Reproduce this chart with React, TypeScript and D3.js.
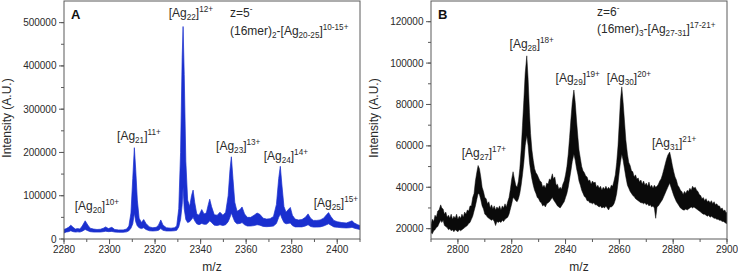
import React from 'react';
import * as d3 from 'd3';

const W = 738;
const H = 275;

// Panel A: (16mer)2-[Ag20-25], z = 5-
const mzA = [2280, 2281, 2282, 2283, 2284, 2285, 2286, 2287, 2288, 2289.3, 2290.5, 2291.5, 2293, 2294.5, 2296, 2297.3, 2298.3, 2299.5, 2301, 2302.3, 2304, 2306, 2307.5, 2308.5, 2309.4, 2310.2, 2310.9, 2311.5, 2312.2, 2313, 2314, 2315, 2316, 2317.5, 2319, 2320.5, 2321.5, 2322.5, 2323.5, 2325, 2327, 2328.5, 2329.5, 2330.4, 2331.2, 2331.9, 2332.3, 2332.8, 2333.5, 2334.3, 2335.2, 2336, 2336.7, 2337.4, 2338.3, 2339.3, 2340.5, 2341.5, 2342.5, 2343.4, 2344, 2344.8, 2346, 2347.3, 2348.5, 2349.8, 2351, 2352.1, 2352.9, 2353.5, 2354.2, 2355, 2356, 2357.3, 2358.2, 2359.3, 2360.5, 2362, 2363.5, 2364.8, 2366, 2367.5, 2369, 2370.5, 2372, 2373.3, 2374.3, 2375, 2375.7, 2376.6, 2377.5, 2378.5, 2379.4, 2380.3, 2381.5, 2383, 2384.5, 2386, 2387.2, 2388.3, 2389.5, 2391, 2392.5, 2394, 2395.3, 2396.2, 2397.2, 2398.5, 2400, 2402, 2404, 2405.5, 2406.5, 2407.5, 2409, 2410];
const hiA = [22000, 24000, 27000, 32000, 27000, 23000, 24000, 23000, 30000, 42000, 32000, 25000, 23000, 22000, 22500, 25000, 28000, 24000, 27000, 22000, 21000, 21000, 23000, 30000, 60000, 140000, 211000, 160000, 90000, 48000, 38000, 45000, 36000, 28000, 26000, 27000, 32000, 44000, 32000, 26000, 25000, 26000, 30000, 70000, 200000, 420000, 491000, 380000, 180000, 90000, 75000, 100000, 113000, 85000, 58000, 55000, 68000, 58000, 60000, 80000, 92000, 75000, 56000, 55000, 62000, 55000, 62000, 100000, 160000, 190000, 140000, 85000, 64000, 68000, 74000, 58000, 50000, 50000, 55000, 60000, 57000, 48000, 46000, 47000, 52000, 80000, 140000, 168000, 125000, 75000, 62000, 68000, 73000, 55000, 46000, 44000, 45000, 50000, 58000, 48000, 43000, 43000, 44000, 48000, 56000, 61000, 52000, 43000, 40000, 38000, 37000, 40000, 42000, 37000, 33000, 31000];
const loA = [14000, 16000, 17000, 19000, 17000, 16000, 16500, 16000, 18000, 22000, 19000, 17000, 16000, 16000, 16000, 17000, 18000, 17000, 17500, 16000, 15500, 15500, 16500, 19000, 25000, 35000, 60000, 40000, 30000, 26000, 24000, 26000, 22000, 19000, 18500, 19000, 20000, 24000, 20000, 18500, 18500, 19000, 20000, 28000, 45000, 80000, 120000, 70000, 45000, 38000, 40000, 45000, 50000, 42000, 35000, 33000, 36000, 34000, 34000, 38000, 42000, 38000, 32000, 31000, 33000, 31000, 33000, 40000, 50000, 60000, 50000, 40000, 35000, 36000, 38000, 33000, 30000, 30000, 31000, 33000, 32000, 29000, 28500, 29000, 30000, 36000, 50000, 58000, 48000, 38000, 35000, 36000, 37000, 31000, 28000, 28000, 28000, 30000, 33000, 29000, 27500, 27500, 28000, 30000, 33000, 35000, 32000, 28000, 27000, 26000, 25500, 26000, 27000, 25000, 23000, 22000];

// Panel B: (16mer)3-[Ag27-31], z = 6-  (upper / lower edge of the noisy trace)
const mzB = [
  2790, 2790.5, 2791, 2791.5, 2792, 2792.5, 2793, 2793.6, 2794, 2794.5,
  2795, 2795.5, 2796, 2796.5, 2797, 2797.5, 2798, 2798.5, 2799, 2799.5,
  2800, 2800.5, 2801, 2801.5, 2802, 2802.5, 2803, 2803.5, 2804, 2804.5,
  2805, 2805.5, 2806, 2806.5, 2807, 2807.5, 2808, 2808.5, 2809, 2809.5,
  2810, 2810.5, 2811, 2811.5, 2812, 2812.5, 2813, 2813.5, 2814, 2814.5,
  2815, 2815.5, 2816, 2816.5, 2817, 2817.5, 2818, 2818.5, 2819, 2819.5,
  2820, 2820.5, 2821, 2821.5, 2822, 2822.5, 2823, 2823.5, 2824, 2824.5,
  2825, 2825.6, 2826.1, 2826.6, 2827, 2827.5, 2828, 2828.5, 2829, 2829.5,
  2830, 2830.5, 2831, 2831.5, 2832, 2832.5, 2833, 2833.5, 2834, 2834.5,
  2835.1, 2835.5, 2836, 2836.5, 2837, 2837.5, 2838, 2838.5, 2839, 2839.5,
  2840, 2840.5, 2841, 2841.5, 2842, 2842.5, 2843.1, 2843.6, 2844.1, 2844.6,
  2845, 2845.5, 2846, 2846.5, 2847, 2847.5, 2848, 2848.5, 2849, 2849.5,
  2850, 2850.5, 2851, 2851.5, 2852, 2852.5, 2853, 2853.5, 2854, 2854.5,
  2855, 2855.5, 2856, 2856.5, 2857, 2857.5, 2858, 2858.5, 2859, 2859.5,
  2860, 2860.4, 2860.9, 2861.4, 2861.9, 2862.4, 2863, 2863.5, 2864, 2864.5,
  2865, 2865.5, 2866, 2866.5, 2867, 2867.5, 2868, 2868.5, 2869, 2869.5,
  2870, 2870.5, 2871, 2871.5, 2872, 2872.5, 2873, 2873.5, 2874, 2874.5,
  2875, 2875.5, 2876, 2876.5, 2877, 2877.5, 2878, 2878.7, 2879.2, 2879.7,
  2880.2, 2880.7, 2881.2, 2881.7, 2882.2, 2882.7, 2883.2, 2883.7, 2884.2, 2884.7,
  2885.2, 2885.7, 2886.2, 2886.7, 2887.2, 2887.7, 2888.2, 2888.7, 2889.2, 2889.7,
  2890.2, 2890.7, 2891.2, 2891.7, 2892.2, 2892.7, 2893.2, 2893.7, 2894.2, 2894.7,
  2895.2, 2895.7, 2896.2, 2896.7, 2897.2, 2897.7, 2898.2, 2898.7, 2899.2, 2899.7,
  2900,
];
const hiB = [
  22000, 24500, 23500, 26500, 25500, 28500, 29000, 31500, 30000, 29500,
  27000, 28000, 25500, 26500, 25000, 27000, 24500, 26000, 25000, 27000,
  24500, 26000, 25000, 27000, 25500, 28000, 27000, 29000, 28500, 31000,
  31000, 35000, 37000, 43000, 47000, 50500, 49000, 45000, 40000, 38000,
  35000, 34500, 32000, 33000, 30000, 31500, 29500, 31000, 29000, 30500,
  29500, 31000, 29000, 31000, 30000, 32000, 30500, 33000, 35000, 39000,
  44000, 47500, 44000, 41000, 40000, 43000, 49000, 58000, 70000, 82000,
  95000, 103500, 92000, 76000, 66000, 58000, 53000, 49000, 47000, 46000,
  44500, 43000, 42500, 40000, 41000, 39500, 42000, 41500, 44000, 43500,
  46500, 44000, 45000, 41000, 41500, 39000, 40000, 39000, 41500, 43000,
  46000, 50000, 56000, 64000, 73000, 81000, 87000, 81000, 72000, 64000,
  58000, 54000, 50000, 48000, 47000, 45500, 45000, 43000, 43500, 41500,
  43000, 42000, 42500, 40000, 41000, 39500, 40500, 38500, 40000, 39000,
  40500, 39000, 40000, 39000, 41000, 40500, 43000, 46000, 52000, 60000,
  72000, 82000, 88500, 81000, 72000, 63000, 56000, 52000, 50500, 48000,
  47500, 45000, 46000, 44000, 44500, 42500, 43500, 41500, 43000, 41000,
  42000, 40500, 42500, 40000, 41000, 39500, 41000, 40000, 40500, 41500,
  43000, 44000, 46000, 48500, 51000, 53500, 55500, 57000, 54000, 50500,
  47500, 45000, 43500, 41000, 40000, 38500, 38000, 36500, 38000, 37000,
  38500, 38000, 39500, 38500, 40500, 39500, 40000, 38500, 38000, 36500,
  36000, 34500, 35000, 33500, 34500, 33000, 33500, 32500, 33500, 32000,
  33000, 31500, 32000, 31000, 31000, 29500, 30000, 28500, 29000, 27500,
  28000,
];
const loB = [
  18000, 17500, 19000, 19500, 20500, 21000, 22500, 24000, 23000, 24000,
  21500, 21000, 20500, 19500, 20000, 19000, 19500, 18500, 19500, 19000,
  18500, 19500, 19000, 19500, 20000, 20500, 21000, 21500, 22500, 23000,
  24500, 26000, 28500, 31000, 34000, 37000, 36500, 34000, 31000, 29500,
  27000, 26500, 25500, 25000, 24500, 24000, 24500, 23500, 21500, 23500,
  23000, 23500, 23000, 24000, 23500, 24500, 25000, 25500, 27000, 29500,
  32000, 35000, 34500, 33500, 33000, 34500, 37000, 41000, 46000, 52000,
  60000, 65000, 60000, 52000, 48000, 44000, 41000, 38500, 37000, 35000,
  34500, 33000, 32500, 31000, 31500, 30500, 32000, 32500, 33000, 34000,
  35000, 34000, 33000, 32000, 31000, 30500, 30000, 31000, 32000, 33000,
  35000, 37000, 40000, 44000, 48000, 52500, 56000, 53000, 49000, 46000,
  43000, 41000, 38500, 37000, 35500, 35000, 33500, 33500, 32500, 32500,
  32000, 32500, 31500, 31500, 31000, 30500, 31000, 30000, 30500, 30000,
  31000, 30000, 29000, 30500, 30500, 31000, 32000, 34000, 37000, 42000,
  48000, 52000, 56000, 53000, 49000, 45000, 41000, 39500, 38000, 37000,
  36000, 35500, 34500, 34000, 33500, 33000, 32500, 32500, 32000, 32500,
  31500, 32000, 31000, 31500, 30500, 31000, 30000, 25000, 30500, 31000,
  32000, 33000, 34000, 35500, 37000, 38500, 40000, 42000, 40000, 38000,
  36000, 34500, 33000, 32000, 31000, 30000, 29500, 29000, 29000, 29500,
  29000, 29500, 30000, 30500, 30000, 30500, 30000, 29500, 29000, 28500,
  28000, 27500, 27000, 27000, 26500, 26000, 26500, 25500, 26000, 25500,
  25000, 25000, 24500, 24500, 24000, 24000, 23500, 23500, 23000, 22500,
  22500,
];

const xTicksA = [2280, 2300, 2320, 2340, 2360, 2380, 2400];
const yTicksA = [0, 100000, 200000, 300000, 400000, 500000];
const xTicksB = [2800, 2820, 2840, 2860, 2880, 2900];
const yTicksB = [20000, 40000, 60000, 80000, 100000, 120000];

type Seg = { t: string; k?: 'sub' | 'sup' };
type Note = { mz: number; v: number; segs: Seg[] };

const ion = (n: string, z: string): Seg[] => [
  { t: '[Ag' }, { t: n, k: 'sub' }, { t: ']' }, { t: z, k: 'sup' },
];

// peak assignments, anchored in data coordinates (m/z, intensity)
const notesA: Note[] = [
  { mz: 2284.7, v: 67000, segs: ion('20', '10+') },
  { mz: 2303.3, v: 229000, segs: ion('21', '11+') },
  { mz: 2326.0, v: 512000, segs: ion('22', '12+') },
  { mz: 2346.8, v: 206000, segs: ion('23', '13+') },
  { mz: 2367.7, v: 183000, segs: ion('24', '14+') },
  { mz: 2389.7, v: 75000, segs: ion('25', '15+') },
  { mz: 2352.9, v: 513000, segs: [{ t: 'z=5' }, { t: '-', k: 'sup' }] },
  { mz: 2352.9, v: 472000, segs: [{ t: '(16mer)' }, { t: '2', k: 'sub' }, { t: '-[Ag' }, { t: '20-25', k: 'sub' }, { t: ']' }, { t: '10-15+', k: 'sup' }] },
];
const notesB: Note[] = [
  { mz: 2801.4, v: 54600, segs: ion('27', '17+') },
  { mz: 2819.2, v: 107300, segs: ion('28', '18+') },
  { mz: 2836.3, v: 90900, segs: ion('29', '19+') },
  { mz: 2855.3, v: 90900, segs: ion('30', '20+') },
  { mz: 2872.1, v: 59500, segs: ion('31', '21+') },
  { mz: 2851.7, v: 122700, segs: [{ t: 'z=6' }, { t: '-', k: 'sup' }] },
  { mz: 2851.7, v: 114500, segs: [{ t: '(16mer)' }, { t: '3', k: 'sub' }, { t: '-[Ag' }, { t: '27-31', k: 'sub' }, { t: ']' }, { t: '17-21+', k: 'sup' }] },
];

const FONT = 'Liberation Sans, Arial, sans-serif';
const AXIS = '#5a5a5a';
const INK = '#2a2a2a';

function RichText({ x, y, segs, size = 12 }: { x: number; y: number; segs: Seg[]; size?: number }) {
  let shift = 0;
  return (
    <text x={x} y={y} fontSize={size} fill={INK} fontFamily={FONT}>
      {segs.map((s, i) => {
        const target = s.k === 'sub' ? 3 : s.k === 'sup' ? -5 : 0;
        const dy = target - shift;
        shift = target;
        return (
          <tspan key={i} dy={dy} fontSize={s.k ? size * 0.68 : size}>
            {s.t}
          </tspan>
        );
      })}
    </text>
  );
}

type PanelProps = {
  id: string;
  letter: string;
  mz: number[];
  hi: number[];
  lo: number[];
  color: string;
  strokeW: number;
  xDomain: [number, number];
  yDomain: [number, number];
  xTicks: number[];
  yTicks: number[];
  xMinor: number;
  yMinor: number;
  box: { left: number; right: number; top: number; bottom: number };
  yLabelX: number;
  notes: Note[];
};

function Panel(p: PanelProps) {
  const { left, right, top, bottom } = p.box;
  const x = d3.scaleLinear().domain(p.xDomain).range([left, right]);
  const y = d3.scaleLinear().domain(p.yDomain).range([bottom, top]);

  const area = d3
    .area<number>()
    .x((_, i) => x(p.mz[i]))
    .y0((_, i) => y(p.lo[i]))
    .y1((d) => y(d));

  const xMinor = d3.range(p.xDomain[0], p.xDomain[1] + 0.001, p.xMinor);
  const yMinor = d3.range(Math.ceil(p.yDomain[0] / p.yMinor) * p.yMinor, p.yDomain[1], p.yMinor);

  return (
    <g fontFamily={FONT}>
      <defs>
        <clipPath id={`clip-${p.id}`}>
          <rect x={left} y={top} width={right - left} height={bottom - top} />
        </clipPath>
      </defs>

      <path
        d={area(p.hi) ?? ''}
        fill={p.color}
        stroke={p.color}
        strokeWidth={p.strokeW}
        strokeLinejoin="miter"
        clipPath={`url(#clip-${p.id})`}
      />

      {/* frame */}
      <rect x={left} y={top} width={right - left} height={bottom - top} fill="none" stroke={AXIS} strokeWidth={1} />

      {/* y axis */}
      {yMinor.map((v) => (
        <line key={'ym' + v} x1={left - 3} x2={left} y1={y(v)} y2={y(v)} stroke={AXIS} />
      ))}
      {p.yTicks.map((v) => (
        <g key={'y' + v}>
          <line x1={left - 5} x2={left} y1={y(v)} y2={y(v)} stroke={AXIS} />
          <text x={left - 7.5} y={y(v) + 3.5} textAnchor="end" fontSize={10} fill={INK}>
            {v}
          </text>
        </g>
      ))}

      {/* x axis */}
      {xMinor.map((v) => (
        <line key={'xm' + v} x1={x(v)} x2={x(v)} y1={bottom} y2={bottom + 3} stroke={AXIS} />
      ))}
      {p.xTicks.map((v) => (
        <g key={'x' + v}>
          <line x1={x(v)} x2={x(v)} y1={bottom} y2={bottom + 5} stroke={AXIS} />
          <text x={x(v)} y={bottom + 13.5} textAnchor="middle" fontSize={10} fill={INK}>
            {v}
          </text>
        </g>
      ))}

      <text x={(left + right) / 2} y={bottom + 32} textAnchor="middle" fontSize={12} fill={INK}>
        m/z
      </text>
      <text
        transform={`translate(${p.yLabelX},${(top + bottom) / 2 - 2}) rotate(-90)`}
        textAnchor="middle"
        fontSize={12}
        fill={INK}
      >
        Intensity (A.U.)
      </text>

      <text x={left + 7} y={top + 17.5} fontSize={13} fontWeight="bold" fill="#111">
        {p.letter}
      </text>

      {p.notes.map((n, i) => (
        <RichText key={i} x={x(n.mz)} y={y(n.v)} segs={n.segs} />
      ))}
    </g>
  );
}

export default function App() {
  return (
    <svg
      width={W}
      height={H}
      viewBox={`0 0 ${W} ${H}`}
      style={{ position: 'absolute', left: 0, top: 0, background: '#fff' }}
    >
      <Panel
        id="a"
        letter="A"
        mz={mzA}
        hi={hiA}
        lo={loA}
        color="#1a2fcf"
        strokeW={0.7}
        xDomain={[2280, 2410]}
        yDomain={[0, 550000]}
        xTicks={xTicksA}
        yTicks={yTicksA}
        xMinor={10}
        yMinor={50000}
        box={{ left: 64, right: 360, top: 1, bottom: 239 }}
        yLabelX={11}
        notes={notesA}
      />
      <Panel
        id="b"
        letter="B"
        mz={mzB}
        hi={hiB}
        lo={loB}
        color="#0a0a0a"
        strokeW={0.5}
        xDomain={[2790, 2900]}
        yDomain={[15000, 130000]}
        xTicks={xTicksB}
        yTicks={yTicksB}
        xMinor={10}
        yMinor={10000}
        box={{ left: 431, right: 727, top: 1, bottom: 239 }}
        yLabelX={378}
        notes={notesB}
      />
    </svg>
  );
}
